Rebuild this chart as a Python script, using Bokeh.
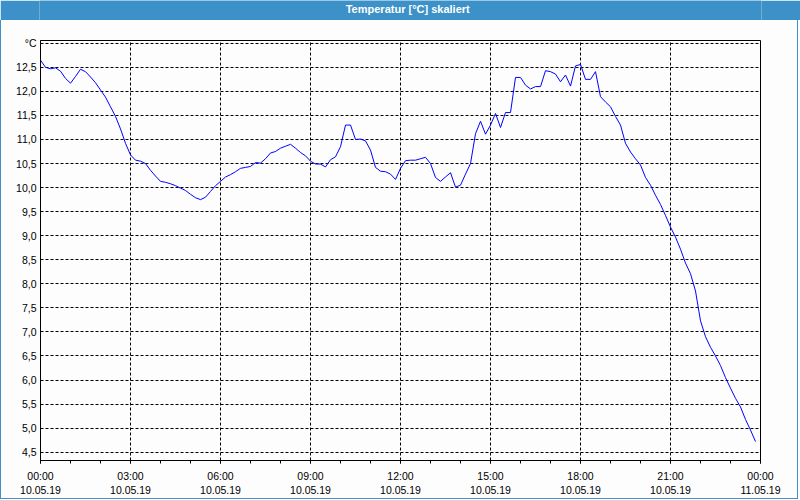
from bokeh.plotting import figure
from bokeh.models import FixedTicker, Label, Range1d, CustomJSTickFormatter
from bokeh.layouts import column
from bokeh.embed import file_html
from bokeh.resources import INLINE

# ---- data ----
times = [f"{h:02d}:{m:02d}" for h in range(24) for m in range(0, 60, 10)]
temps = [
    12.65, 12.50, 12.47, 12.49, 12.42, 12.27,
    12.17, 12.31, 12.46, 12.41, 12.30, 12.18,
    12.03, 11.88, 11.68, 11.48, 11.22, 10.92,
    10.68, 10.57, 10.55, 10.50, 10.36, 10.24,
    10.13, 10.11, 10.08, 10.04, 9.99, 9.94,
    9.86, 9.79, 9.75, 9.80, 9.92, 10.04,
    10.13, 10.22, 10.27, 10.33, 10.40, 10.42,
    10.44, 10.52, 10.51, 10.60, 10.72, 10.75,
    10.82, 10.86, 10.90, 10.82, 10.73, 10.66,
    10.55, 10.49, 10.49, 10.43, 10.58, 10.64,
    10.85, 11.30, 11.30, 11.00, 11.01, 10.97,
    10.78, 10.42, 10.34, 10.33, 10.28, 10.17,
    10.40, 10.56, 10.57, 10.57, 10.60, 10.63,
    10.50, 10.21, 10.13, 10.22, 10.31, 10.01,
    10.05, 10.28, 10.50, 11.12, 11.38, 11.11,
    11.30, 11.54, 11.25, 11.56, 11.56, 12.29,
    12.29, 12.13, 12.05, 12.10, 12.10, 12.43,
    12.41, 12.36, 12.20, 12.34, 12.11, 12.53,
    12.56, 12.25, 12.25, 12.41, 11.89, 11.78,
    11.68, 11.48, 11.30, 10.92, 10.74, 10.60,
    10.47, 10.21, 10.05, 9.84, 9.65, 9.42,
    9.18, 8.97, 8.72, 8.43, 8.21, 7.85,
    7.23, 6.90, 6.68, 6.50, 6.30, 6.05,
    5.83, 5.62, 5.44, 5.18, 4.96, 4.72,
]
hours = [int(t[:2]) + int(t[3:]) / 60.0 for t in times]

x_ticks = [0, 3, 6, 9, 12, 15, 18, 21, 24]
x_tick_labels = [
    "00:00\n10.05.19", "03:00\n10.05.19", "06:00\n10.05.19", "09:00\n10.05.19",
    "12:00\n10.05.19", "15:00\n10.05.19", "18:00\n10.05.19", "21:00\n10.05.19",
    "00:00\n11.05.19",
]
x_minor = list(range(0, 25))
y_ticks = [4.5, 5.0, 5.5, 6.0, 6.5, 7.0, 7.5, 8.0, 8.5, 9.0, 9.5, 10.0,
           10.5, 11.0, 11.5, 12.0, 12.5, 13.0]
y_tick_labels = ["4,5", "5,0", "5,5", "6,0", "6,5", "7,0", "7,5", "8,0", "8,5",
                 "9,0", "9,5", "10,0", "10,5", "11,0", "11,5", "12,0", "12,5", "°C"]
title_text = "Temperatur [°C] skaliert"

BG = "#fcfdfc"
BLUE = "#3c91c8"
FONT = "Liberation Sans"

# ---- title bar (its own small figure without axes; frame fills the canvas) ----
tb = figure(width=800, height=20, output_backend="svg", toolbar_location=None,
            x_range=Range1d(0, 1), y_range=Range1d(0, 1),
            x_axis_location=None, y_axis_location=None,
            min_border=0, min_border_left=0, min_border_right=0,
            min_border_top=0, min_border_bottom=0,
            background_fill_color=BLUE, border_fill_color=BLUE,
            outline_line_color=None)
tb.grid.visible = False
tb.add_layout(Label(x=0.51, y=0.6, text=title_text, text_align="center",
                    text_baseline="middle", text_color="white", text_font=FONT,
                    text_font_style="bold", text_font_size="11px"))

# ---- main chart ----
p = figure(width=798, height=479, output_backend="svg", toolbar_location=None,
           x_range=Range1d(0, 24), y_range=Range1d(4.327, 13.058),
           min_border_left=39, min_border_right=39, min_border_top=20,
           min_border_bottom=39, background_fill_color=BG, border_fill_color=BG,
           outline_line_color="black", outline_line_width=1)
p.styles = {"border-left": f"1px solid {BLUE}", "border-right": f"1px solid {BLUE}",
            "border-bottom": f"1px solid {BLUE}"}

p.line(hours, temps, line_color="#0000ff", line_width=1)

FMT_CODE = """
for (let i = 0; i < tvals.length; i++) { if (Math.abs(tvals[i] - tick) < 1e-6) return tlabels[i]; }
return '';
"""

p.xaxis.ticker = FixedTicker(ticks=x_ticks, minor_ticks=x_minor)
p.xaxis.formatter = CustomJSTickFormatter(args=dict(tvals=x_ticks, tlabels=x_tick_labels), code=FMT_CODE)
p.xaxis.major_tick_out = 3
p.xaxis.major_tick_in = 0
p.xaxis.minor_tick_out = 3
p.xaxis.minor_tick_in = 0
p.xaxis.major_label_standoff = 6
p.xaxis.axis_line_color = "black"
p.xaxis.major_tick_line_color = "black"
p.xaxis.minor_tick_line_color = "black"

p.yaxis.ticker = FixedTicker(ticks=y_ticks, minor_ticks=[])
p.yaxis.formatter = CustomJSTickFormatter(args=dict(tvals=y_ticks, tlabels=y_tick_labels), code=FMT_CODE)
p.yaxis.major_tick_out = 0
p.yaxis.major_tick_in = 0
p.yaxis.minor_tick_out = 0
p.yaxis.minor_tick_in = 0
p.yaxis.major_label_standoff = 4
p.yaxis.axis_line_color = "black"

for ax in (p.xaxis[0], p.yaxis[0]):
    ax.major_label_text_font = FONT
    ax.major_label_text_font_size = "10.5px"
    ax.major_label_text_color = "#000000"

p.xgrid.ticker = FixedTicker(ticks=x_ticks[1:-1])
p.ygrid.ticker = FixedTicker(ticks=y_ticks)
for g in (p.xgrid[0], p.ygrid[0]):
    g.grid_line_color = "black"
    g.grid_line_dash = "3 2"
    g.grid_line_width = 1
    g.grid_line_alpha = 1.0

layout = column(tb, p, spacing=0)
open("out.html", "w").write(file_html(layout, INLINE))
